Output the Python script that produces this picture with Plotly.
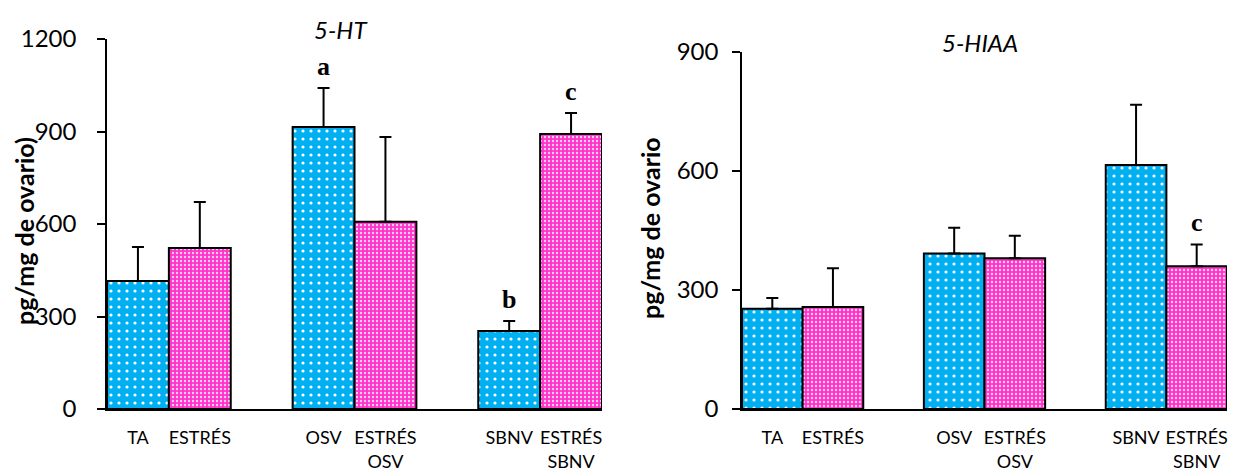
import plotly.graph_objects as go

# ---- data ----
labels_ctrl = ["TA", "OSV", "SBNV"]
labels_stress = ["ESTRÉS", "ESTRÉS<br>OSV", "ESTRÉS<br>SBNV"]

ht_ctrl = [415, 915, 253]
ht_ctrl_err = [110, 126, 32]
ht_stress = [522, 607, 892]
ht_stress_err = [149, 275, 68]

hiaa_ctrl = [253, 392, 615]
hiaa_ctrl_err = [27, 65, 152]
hiaa_stress = [257, 380, 360]
hiaa_stress_err = [98, 57, 55]

ht_letters_ctrl = ["", "a", "b"]
ht_letters_stress = ["", "", "c"]
hiaa_letters_ctrl = ["", "", ""]
hiaa_letters_stress = ["", "", "c"]

BLUE = "#00B0F0"
PINK = "#FF33CC"
W, H = 1237, 470
OFF = 8  # page body margin


def fx(px):
    return (px - OFF) / W


def fy(py):
    return (H - (py - OFF)) / H


pos_ctrl = [g * 3 for g in range(3)]
pos_stress = [g * 3 + 1 for g in range(3)]

fig = go.Figure()


def add_panel(xa, ya, ctrl, ctrl_err, stress, stress_err):
    fig.add_trace(go.Bar(
        x=pos_ctrl, y=ctrl, width=1, xaxis=xa, yaxis=ya,
        marker=dict(color=BLUE, line=dict(color="black", width=2),
                    pattern=dict(shape=".", fgcolor="white", bgcolor=BLUE,
                                 size=8, solidity=0.12, fillmode="replace")),
        error_y=dict(type="data", symmetric=False, array=ctrl_err,
                     arrayminus=[0] * 3, color="black", thickness=2, width=6),
        showlegend=False))
    fig.add_trace(go.Bar(
        x=pos_stress, y=stress, width=1, xaxis=xa, yaxis=ya,
        marker=dict(color=PINK, line=dict(color="black", width=2),
                    pattern=dict(shape=".", fgcolor="#FFD0F0", bgcolor=PINK,
                                 size=4, solidity=0.28, fillmode="replace")),
        error_y=dict(type="data", symmetric=False, array=stress_err,
                     arrayminus=[0] * 3, color="black", thickness=2, width=6),
        showlegend=False))


add_panel("x", "y", ht_ctrl, ht_ctrl_err, ht_stress, ht_stress_err)
add_panel("x2", "y2", hiaa_ctrl, hiaa_ctrl_err, hiaa_stress, hiaa_stress_err)

tickvals = []
ticktext = []
for g in range(3):
    tickvals += [pos_ctrl[g], pos_stress[g]]
    ticktext += [labels_ctrl[g], labels_stress[g]]

xcommon = dict(range=[-0.5, 7.5], showline=True, linecolor="black", linewidth=1.5,
               tickvals=tickvals, ticktext=ticktext, ticks="outside", ticklen=12,
               tickcolor="rgba(0,0,0,0)", showgrid=False, zeroline=False, automargin=False,
               tickfont=dict(family="Lato", size=18, color="black"), fixedrange=True)
ycommon = dict(showline=True, linecolor="black", linewidth=1.5, ticks="outside",
               ticklen=8, tickwidth=1.5, tickcolor="black", showgrid=False, automargin=False,
               zeroline=False, tickfont=dict(family="Lato", size=24, color="black"))

fig.update_layout(
    width=W, height=H, margin=dict(l=0, r=0, t=0, b=0, pad=0, autoexpand=False),
    paper_bgcolor="white", plot_bgcolor="white", barmode="overlay",
    xaxis=dict(domain=[fx(107), fx(602)], anchor="y", **xcommon),
    yaxis=dict(domain=[fy(409), fy(39)], anchor="x", range=[0, 1200],
               tickvals=[0, 300, 600, 900, 1200], ticklabelstandoff=16, **ycommon),
    xaxis2=dict(domain=[fx(742), fx(1227)], anchor="y2", **xcommon),
    yaxis2=dict(domain=[fy(409), fy(52)], anchor="x2", range=[0, 900],
                tickvals=[0, 300, 600, 900], ticklabelstandoff=9, **ycommon),
)

ann = []


def letters(xa, ya, vals, errs, pos, lets):
    for v, e, p, t in zip(vals, errs, pos, lets):
        if t:
            ann.append(dict(x=p, y=v + e, xref=xa, yref=ya, text="<b>" + t + "</b>",
                            showarrow=False, xanchor="center", yanchor="middle", yshift=22,
                            font=dict(family="Liberation Serif", size=26, color="black")))


letters("x", "y", ht_ctrl, ht_ctrl_err, pos_ctrl, ht_letters_ctrl)
letters("x", "y", ht_stress, ht_stress_err, pos_stress, ht_letters_stress)
letters("x2", "y2", hiaa_ctrl, hiaa_ctrl_err, pos_ctrl, hiaa_letters_ctrl)
letters("x2", "y2", hiaa_stress, hiaa_stress_err, pos_stress, hiaa_letters_stress)


def ptext(px, py, text, size, angle=0):
    ann.append(dict(x=fx(px), y=fy(py), xref="paper", yref="paper", text=text,
                    textangle=angle, showarrow=False, xanchor="center", yanchor="middle",
                    font=dict(family="Lato", size=size, color="black")))


ptext(340, 30, "<i>5-HT</i>", 24)
ptext(980, 42, "<i>5-HIAA</i>", 24)
ptext(24, 231, "<b>pg/mg de ovario)</b>", 25, -90)
ptext(650, 228, "<b>pg/mg de ovario</b>", 25, -90)

fig.update_layout(annotations=ann)
fig.write_html("out.html")
